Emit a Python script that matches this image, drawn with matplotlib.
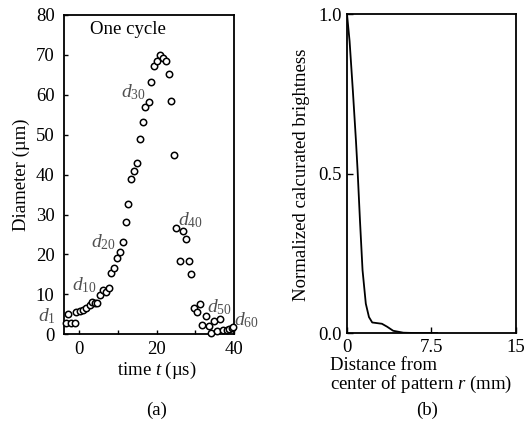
import matplotlib
matplotlib.use('Agg')
import matplotlib.pyplot as plt

plt.rcParams['font.family'] = 'Liberation Serif'
plt.rcParams['mathtext.fontset'] = 'custom'
plt.rcParams['mathtext.rm'] = 'Liberation Serif'
plt.rcParams['mathtext.it'] = 'Liberation Serif:italic'
plt.rcParams['font.size'] = 13

# (a) diameter over one cycle
time_us = [-3.3, -2.8, -2.0, -1.1, -0.7, 0.2, 1.0, 1.9, 2.8, 3.3,
           4.1, 4.7, 5.3, 6.2, 6.9, 7.6, 8.3, 9.0, 9.7, 10.5,
           11.2, 12.0, 12.6, 13.4, 14.1, 14.9, 15.7, 16.4, 17.1, 17.9,
           18.6, 19.3, 20.0, 20.8, 21.7, 22.4, 23.1, 23.7, 24.4, 25.1,
           26.0, 26.7, 27.5, 28.2, 28.9, 29.6, 30.3, 31.1, 31.7, 32.6,
           33.4, 34.0, 34.8, 35.5, 36.3, 37.0, 38.0, 38.7, 39.3, 39.7]
diam_um = [2.7, 5.2, 2.7, 2.7, 5.5, 5.8, 6.1, 6.5, 7.3, 8.0,
           7.8, 7.8, 9.8, 11.1, 10.5, 11.6, 15.4, 16.7, 19.2, 20.7,
           23.2, 28.2, 32.7, 38.8, 40.8, 42.9, 48.9, 53.2, 57.0, 58.1,
           63.2, 67.2, 68.5, 70.0, 69.1, 68.4, 65.3, 58.5, 44.8, 26.7,
           18.3, 25.9, 23.9, 18.3, 15.2, 6.5, 5.5, 7.7, 2.3, 4.6,
           2.1, 0.4, 3.4, 0.8, 3.8, 1.1, 1.1, 1.3, 1.6, 1.8]
d_labels = ['1', '10', '20', '30', '40', '50', '60']
d_label_t = [-8.3, 1.5, 6.4, 13.9, 28.6, 36.1, 43.2]
d_label_d = [4.6, 12.4, 23.1, 60.7, 28.6, 6.8, 3.6]

# (b) brightness profile
r_mm = [0.0, 0.23, 0.52, 0.8, 0.94, 1.15, 1.38, 1.67, 1.95, 2.24,
        2.67, 3.1, 3.55, 4.1, 5.0, 6.0, 8.0]
bright = [1.0, 0.915, 0.76, 0.60, 0.51, 0.354, 0.197, 0.092, 0.05, 0.033,
          0.031, 0.029, 0.02, 0.007, 0.001, 0.0, 0.0]

fig = plt.figure(figsize=(5.3, 4.21), dpi=100)

ax = fig.add_axes([0.1213, 0.206, 0.3208, 0.7584])
ax.plot(time_us, diam_um, 'o', mfc='white', mec='black', ms=4.6, mew=1.1,
        clip_on=False, zorder=3)
ax.set_xlim(-3.8, 40)
ax.set_ylim(0, 80)
ax.set_xticks([0, 10, 20, 30, 40])
ax.set_xticklabels(['0', '', '20', '', '40'])
ax.set_yticks(range(0, 81, 10))
ax.tick_params(direction='in', length=3, width=1, labelsize=13.5)
ax.tick_params(axis='x', pad=5)
ax.tick_params(axis='y', pad=7)
for s in ax.spines.values():
    s.set_linewidth(1.3)
ax.text(12.6, 76.3, 'One cycle', ha='center', va='center', fontsize=13.5)
for lab, t, d in zip(d_labels, d_label_t, d_label_d):
    ax.text(t, d, r'$d_{%s}$' % lab, ha='center', va='center',
            fontsize=14, color='#505050', clip_on=False)

fig.text(0.040, 0.584, 'Diameter (µm)', rotation=90, ha='center', va='center', fontsize=13.5)
fig.text(0.296, 0.121, r'time $t$ (µs)', ha='center', va='center', fontsize=13.5)
fig.text(0.296, 0.026, '(a)', ha='center', va='center', fontsize=13.5)

bx = fig.add_axes([0.6547, 0.209, 0.3189, 0.7577])
bx.plot(r_mm, bright, color='black', lw=1.3)
bx.set_xlim(0, 15)
bx.set_ylim(0, 1.0)
bx.set_xticks([0, 7.5, 15])
bx.set_xticklabels(['0', '7.5', '15'])
bx.set_yticks([0, 0.5, 1.0])
bx.set_yticklabels(['0.0', '0.5', '1.0'])
bx.tick_params(direction='in', length=4, width=1, labelsize=13.5, pad=4)
for s in bx.spines.values():
    s.set_linewidth(1.3)

fig.text(0.568, 0.585, 'Normalized calcurated brightness', rotation=90,
         ha='center', va='center', fontsize=13.5)
fig.text(0.623, 0.131, 'Distance from', ha='left', va='center', fontsize=13.5)
fig.text(0.623, 0.086, r'center of pattern $r$ (mm)', ha='left', va='center', fontsize=13.5)
fig.text(0.806, 0.026, '(b)', ha='center', va='center', fontsize=13.5)

plt.savefig('out.png', dpi=100)
plt.close('all')
